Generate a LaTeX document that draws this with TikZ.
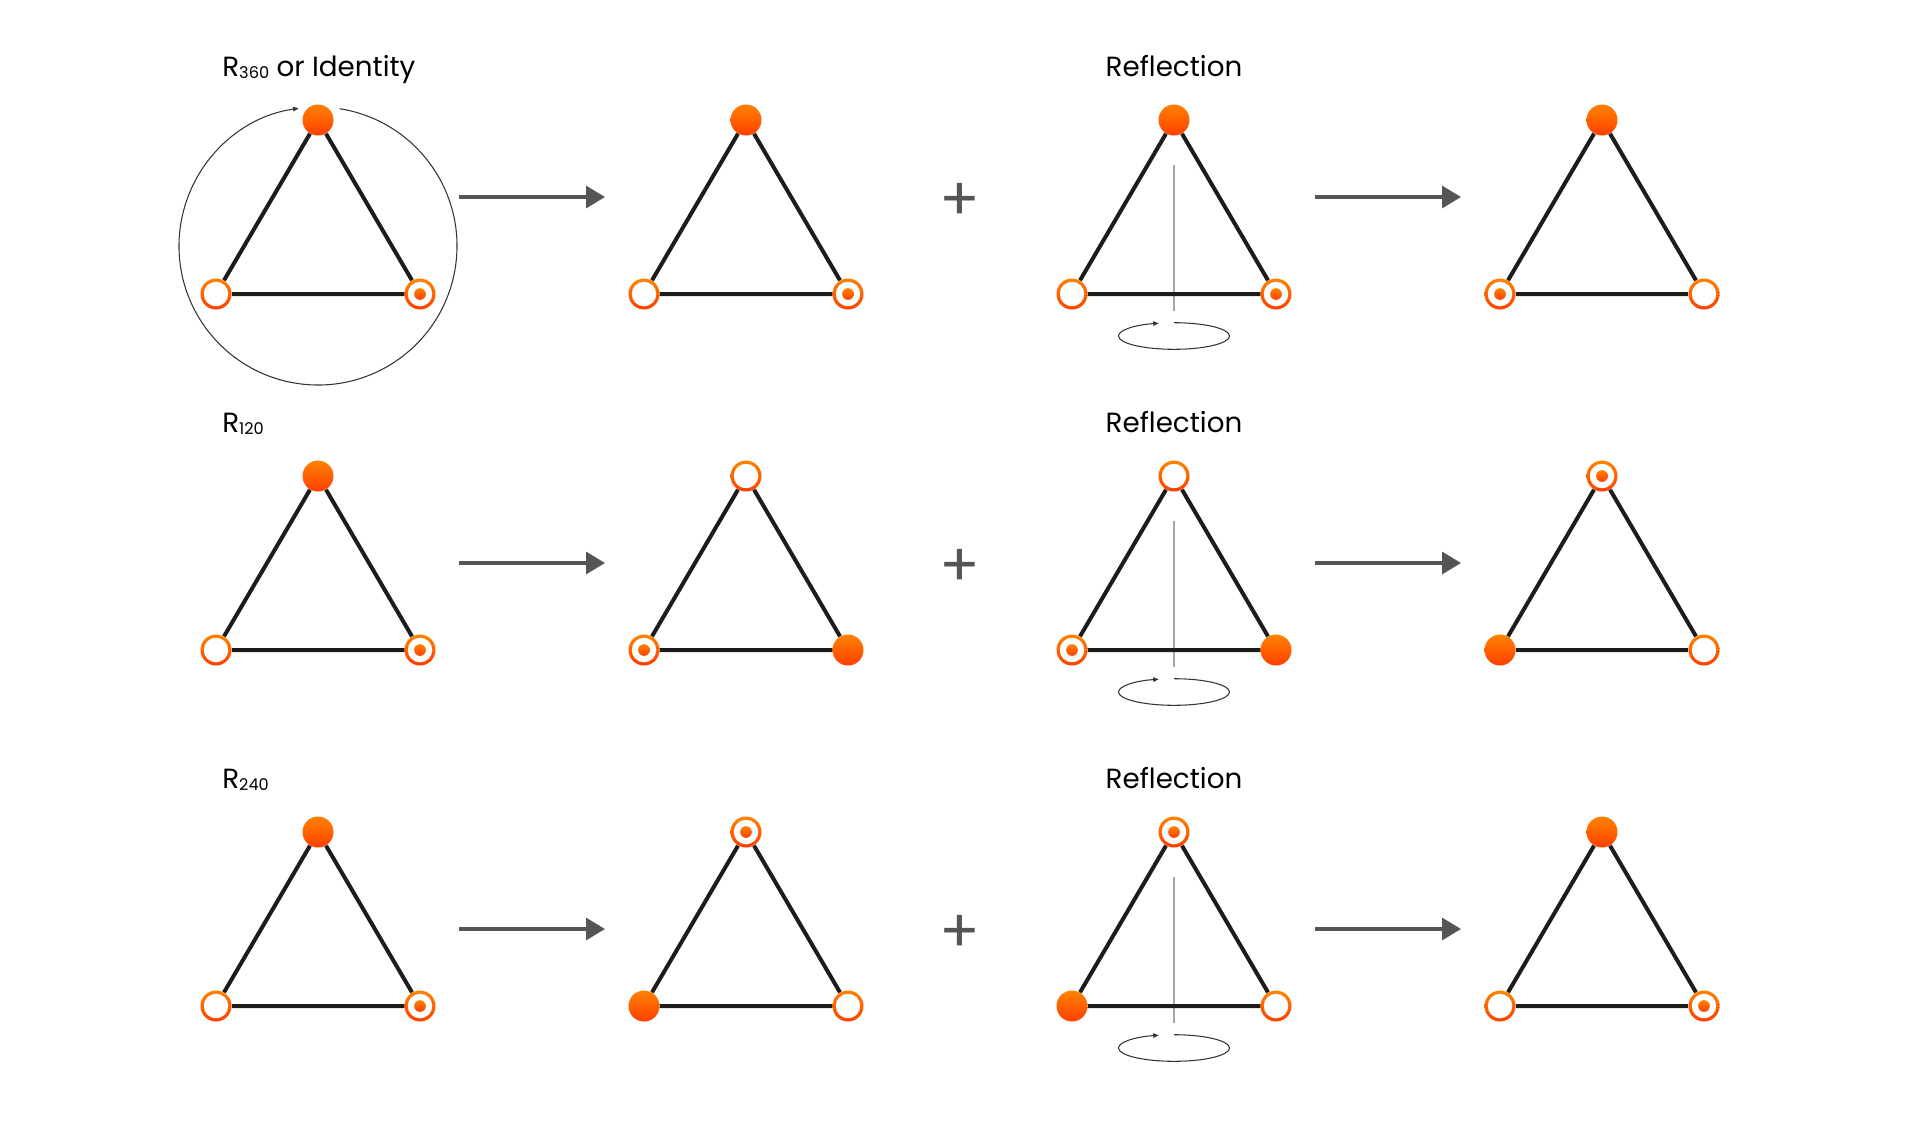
\documentclass[tikz,border=0pt]{standalone}
\usepackage{fontspec}
\newfontfamily\labelfont{Poppins}
\usepackage{tikz}
\usetikzlibrary{arrows.meta}
\definecolor{vtop}{HTML}{FF8200}
\definecolor{vbot}{HTML}{FF3F00}
\definecolor{edgeblack}{HTML}{1C1C1C}
\definecolor{arrowgrey}{HTML}{555555}
\definecolor{axisgrey}{HTML}{A6A6A6}
\definecolor{loopblack}{HTML}{333333}
\newcommand{\rsub}[1]{\raisebox{-1.4pt}{\fontsize{9.2pt}{10pt}\selectfont #1}}

\begin{document}
\begin{tikzpicture}[
  x=0.02cm, y=-0.02cm,
  vfull/.style  = {circle, inner sep=0pt, minimum size=0.62cm, top color=vtop, bottom color=vbot},
  vring/.style  = {vfull, path picture={\fill[white] (path picture bounding box.center) circle[radius=0.245cm];}},
  vdot/.style   = {vfull, path picture={\fill[white] (path picture bounding box.center) circle[radius=0.245cm];
                   \shade[top color=vtop, bottom color=vbot] (path picture bounding box.center) circle[radius=0.117cm];}},
  tedge/.style  = {draw=edgeblack, line width=2.27pt},
  arr/.style    = {-{Triangle[length=0.38cm, width=0.44cm]}, line width=1.9pt, draw=arrowgrey},
  loopline/.style = {draw=loopblack, line width=0.6pt, -{Triangle[length=0.11cm, width=0.09cm]}},
  raxis/.style  = {draw=axisgrey, line width=0.6pt},
  ttl/.style    = {font=\labelfont\fontsize{15.8pt}{18pt}\selectfont, inner sep=0pt},
  plus/.style   = {font=\labelfont\fontsize{34pt}{36pt}\selectfont, text=arrowgrey, inner sep=0pt},
]
\useasboundingbox (0,0) rectangle (1920,1127);
%%--- Row 1: R360 or Identity ---
\node[ttl, anchor=base west] (ttl1) at (222,76) {R\rsub{360} or Identity};
\node[ttl, anchor=base] (ref1) at (1174,76) {Reflection};
\node[vfull] (a1t) at (318,120) {};
\node[vring] (a1l) at (216,294) {};
\node[vdot]  (a1r) at (420,294) {};
\draw[loopline] (318,246) ++(-81:139) arc[start angle=-81, end angle=262, radius=139];
\draw[tedge] (a1t)--(a1l)--(a1r)--(a1t);
\node[vfull] (a2t) at (746,120) {};
\node[vring] (a2l) at (644,294) {};
\node[vdot]  (a2r) at (848,294) {};
\draw[tedge] (a2t)--(a2l)--(a2r)--(a2t);
\node[vfull] (a3t) at (1174,120) {};
\node[vring] (a3l) at (1072,294) {};
\node[vdot]  (a3r) at (1276,294) {};
\draw[raxis] (1174,165) -- (1174,311);
\draw[loopline] (1174,336) ++(-90:55.5 and 13.3) arc[start angle=-90, end angle=254, x radius=55.5, y radius=13.3];
\draw[tedge] (a3t)--(a3l)--(a3r)--(a3t);
\node[vfull] (a4t) at (1602,120) {};
\node[vdot]  (a4l) at (1500,294) {};
\node[vring] (a4r) at (1704,294) {};
\draw[tedge] (a4t)--(a4l)--(a4r)--(a4t);
\coordinate (aas) at (459,197); \coordinate (aae) at (605,197);
\coordinate (abs) at (1315,197); \coordinate (abe) at (1461,197);
\draw[arr] (aas)--(aae); \draw[arr] (abs)--(abe);
\node[plus] (ap) at (960,202) {+};
%%--- Row 2: R120 ---
\node[ttl, anchor=base west] (ttl2) at (222,432) {R\rsub{120}};
\node[ttl, anchor=base] (ref2) at (1174,432) {Reflection};
\node[vfull] (b1t) at (318,476) {};
\node[vring] (b1l) at (216,650) {};
\node[vdot]  (b1r) at (420,650) {};
\draw[tedge] (b1t)--(b1l)--(b1r)--(b1t);
\node[vring] (b2t) at (746,476) {};
\node[vdot]  (b2l) at (644,650) {};
\node[vfull] (b2r) at (848,650) {};
\draw[tedge] (b2t)--(b2l)--(b2r)--(b2t);
\node[vring] (b3t) at (1174,476) {};
\node[vdot]  (b3l) at (1072,650) {};
\node[vfull] (b3r) at (1276,650) {};
\draw[raxis] (1174,521) -- (1174,667);
\draw[loopline] (1174,692) ++(-90:55.5 and 13.3) arc[start angle=-90, end angle=254, x radius=55.5, y radius=13.3];
\draw[tedge] (b3t)--(b3l)--(b3r)--(b3t);
\node[vdot]  (b4t) at (1602,476) {};
\node[vfull] (b4l) at (1500,650) {};
\node[vring] (b4r) at (1704,650) {};
\draw[tedge] (b4t)--(b4l)--(b4r)--(b4t);
\coordinate (bas) at (459,563); \coordinate (bae) at (605,563);
\coordinate (bbs) at (1315,563); \coordinate (bbe) at (1461,563);
\draw[arr] (bas)--(bae); \draw[arr] (bbs)--(bbe);
\node[plus] (bp) at (960,568) {+};
%%--- Row 3: R240 ---
\node[ttl, anchor=base west] (ttl3) at (222,788) {R\rsub{240}};
\node[ttl, anchor=base] (ref3) at (1174,788) {Reflection};
\node[vfull] (c1t) at (318,832) {};
\node[vring] (c1l) at (216,1006) {};
\node[vdot]  (c1r) at (420,1006) {};
\draw[tedge] (c1t)--(c1l)--(c1r)--(c1t);
\node[vdot]  (c2t) at (746,832) {};
\node[vfull] (c2l) at (644,1006) {};
\node[vring] (c2r) at (848,1006) {};
\draw[tedge] (c2t)--(c2l)--(c2r)--(c2t);
\node[vdot]  (c3t) at (1174,832) {};
\node[vfull] (c3l) at (1072,1006) {};
\node[vring] (c3r) at (1276,1006) {};
\draw[raxis] (1174,877) -- (1174,1023);
\draw[loopline] (1174,1048) ++(-90:55.5 and 13.3) arc[start angle=-90, end angle=254, x radius=55.5, y radius=13.3];
\draw[tedge] (c3t)--(c3l)--(c3r)--(c3t);
\node[vfull] (c4t) at (1602,832) {};
\node[vring] (c4l) at (1500,1006) {};
\node[vdot]  (c4r) at (1704,1006) {};
\draw[tedge] (c4t)--(c4l)--(c4r)--(c4t);
\coordinate (cas) at (459,929); \coordinate (cae) at (605,929);
\coordinate (cbs) at (1315,929); \coordinate (cbe) at (1461,929);
\draw[arr] (cas)--(cae); \draw[arr] (cbs)--(cbe);
\node[plus] (cp) at (960,934) {+};
\end{tikzpicture}
\end{document}
